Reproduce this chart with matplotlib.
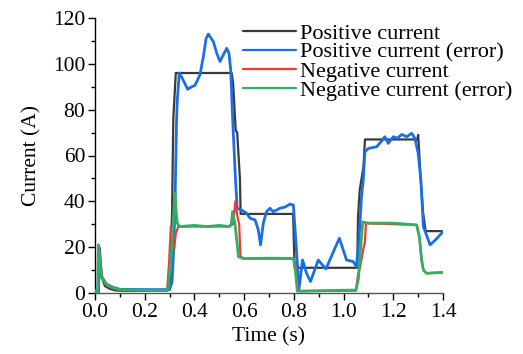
import matplotlib
matplotlib.use("Agg")
import matplotlib.pyplot as plt
from matplotlib.ticker import MultipleLocator

plt.rcParams['font.family'] = ['Liberation Serif', 'DejaVu Serif']
plt.rcParams['mathtext.fontset'] = 'stix'

# Positive current (reference)
t_pos = [0, 0.015, 0.017, 0.02, 0.025, 0.03, 0.04, 0.06, 0.08, 0.1, 0.29, 0.30, 0.31, 0.315, 0.325,
         0.55, 0.556, 0.566, 0.572, 0.583, 0.586, 0.797, 0.803, 1.055, 1.058, 1.065, 1.08, 1.086,
         1.297, 1.300, 1.304, 1.31, 1.32, 1.33, 1.4]
i_pos = [0, 0, 20, 18, 10, 6, 3, 1.8, 1.2, 1, 1, 2, 35, 76, 96,
         96, 91, 71, 70, 50, 34.5, 34.5, 11, 11, 33, 45, 55, 67,
         67, 69, 62, 50, 35, 27, 27]

# Positive current (error)
t_pos_err = [0, 0.012, 0.014, 0.02, 0.027, 0.047, 0.072, 0.1, 0.2, 0.30, 0.31, 0.317, 0.322, 0.328, 0.331,
             0.339, 0.351, 0.373, 0.389, 0.402, 0.422, 0.436, 0.447, 0.456, 0.476, 0.49, 0.503, 0.516,
             0.53, 0.539, 0.546, 0.554, 0.565, 0.572, 0.59, 0.61, 0.624, 0.644, 0.657, 0.666, 0.677,
             0.69, 0.704, 0.717, 0.731, 0.744, 0.765, 0.784, 0.798, 0.805, 0.814, 0.82, 0.835, 0.851,
             0.867, 0.898, 0.929, 0.983, 1.012, 1.039, 1.052, 1.063, 1.072, 1.079, 1.086, 1.1, 1.133,
             1.157, 1.166, 1.18, 1.2, 1.216, 1.234, 1.254, 1.274, 1.287, 1.3, 1.311, 1.321, 1.348,
             1.368, 1.388, 1.4]
i_pos_err = [1.2, 1.2, 20, 14, 7, 3.8, 2.5, 1.6, 1.5, 1.5, 5, 20, 40, 75, 84,
             96, 93.7, 88.9, 90, 90.6, 95.1, 103.1, 111.1, 113, 109.7, 104.6, 101, 103.9,
             106.8, 104.6, 97.3, 75.5, 50, 37, 36.2, 34.8, 32.6, 31.9, 27.5, 21, 30.4,
             35.5, 37, 35.5, 36.2, 37, 37.5, 38.8, 38.4, 27.5, 13, 1, 14.4, 8.6,
             5, 14.4, 10.5, 23.9, 14.4, 13.7, 11.5, 24.6, 42, 49, 61.7, 63.1, 63.8,
             66.8, 68.2, 65.3, 68.2, 67.5, 69.2, 68.2, 69.7, 67.5, 61, 49.3, 29, 21,
             23, 25.3, 26.8]

# Negative current (reference)
t_neg = [0, 0.012, 0.014, 0.02, 0.027, 0.047, 0.072, 0.1, 0.29, 0.298, 0.305, 0.31, 0.318, 0.325, 0.335,
         0.54, 0.555, 0.565, 0.572, 0.58, 0.585, 0.6, 0.8, 0.808, 0.816, 1.05, 1.058, 1.066, 1.08,
         1.086, 1.09, 1.294, 1.305, 1.314, 1.321, 1.334, 1.4]
i_neg = [0.5, 0.5, 21, 14, 6.5, 3.5, 2.2, 1.3, 1, 13, 29, 20, 19, 26, 29,
         29, 30, 40, 34, 30, 16, 15, 15, 11, 0.8, 1, 8, 11, 19.5,
         22.4, 30.4, 29.7, 24.6, 14.4, 10, 8.6, 9]

# Negative current (error)
t_neg_err = [0, 0.012, 0.014, 0.02, 0.027, 0.047, 0.072, 0.1, 0.2, 0.29, 0.295, 0.304, 0.312, 0.318,
             0.322, 0.327, 0.331, 0.34, 0.4, 0.45, 0.5, 0.54, 0.548, 0.554, 0.558, 0.563, 0.573,
             0.577, 0.6, 0.7, 0.798, 0.805, 0.814, 0.9, 1.0, 1.05, 1.06, 1.069, 1.077, 1.1, 1.2,
             1.294, 1.305, 1.314, 1.321, 1.334, 1.4]
i_neg_err = [0.5, 0.5, 21, 14, 6.5, 3.5, 2.2, 1.5, 1.2, 1, 2.7, 13, 26, 38,
             43.5, 35, 30.5, 29, 29.5, 29, 29.5, 29, 30, 35.5, 33, 30.5, 20.2,
             15.8, 15, 15.2, 15.1, 11, 0.8, 1, 1.2, 1.3, 6.4, 20.2, 31, 30.5, 30.5,
             29.7, 24.6, 14.4, 10, 8.6, 9]

labels = ['Positive current', 'Positive current (error)', 'Negative current', 'Negative current (error)']
colors = ['#3a3a3a', '#1a6fe6', '#f03a3a', '#35ad62']

fig = plt.figure(figsize=(5.23, 3.54), dpi=100)
ax = fig.add_axes([95/523, 1-293/354, (443-95)/523, (293-18)/354])

kw = dict(solid_joinstyle='round', solid_capstyle='round')
ax.plot(t_pos, i_pos, color=colors[0], lw=1.6, label=labels[0], zorder=2, **kw)
ax.plot(t_pos_err, i_pos_err, color=colors[1], lw=2.0, label=labels[1], zorder=3, **kw)
ax.plot(t_neg, i_neg, color=colors[2], lw=1.6, label=labels[2], zorder=4, **kw)
ax.plot(t_neg_err, i_neg_err, color=colors[3], lw=2.0, label=labels[3], zorder=5, **kw)

ax.set_xlim(0, 1.4)
ax.set_ylim(0, 120)
ax.xaxis.set_major_locator(MultipleLocator(0.2))
ax.xaxis.set_minor_locator(MultipleLocator(0.1))
ax.yaxis.set_major_locator(MultipleLocator(20))
ax.yaxis.set_minor_locator(MultipleLocator(10))
ax.set_xticks([0, 0.2, 0.4, 0.6, 0.8, 1.0, 1.2, 1.4])
ax.set_xticklabels(['0.0', '0.2', '0.4', '0.6', '0.8', '1.0', '1.2', '1.4'])
ax.tick_params(which='major', direction='out', length=5, width=1, labelsize=15.5, pad=2)
ax.tick_params(which='minor', direction='out', length=3, width=1)
for s in ['top', 'right']:
    ax.spines[s].set_visible(False)
ax.spines['left'].set_linewidth(1)
ax.spines['bottom'].set_linewidth(1)
ax.spines['bottom'].set_color('#555555')

ax.set_xlabel('Time (s)', fontsize=15.5, labelpad=4)
ax.set_ylabel('Current (A)', fontsize=15.5, labelpad=8)

leg = ax.legend(loc='upper left', bbox_to_anchor=(243/523, 1-23/354), bbox_transform=fig.transFigure,
                frameon=False, fontsize=16, handlelength=2.4, handletextpad=0.15,
                labelspacing=-0.06, borderpad=0, borderaxespad=0)
for h in leg.get_lines():
    h.set_linewidth(1.6)

fig.savefig('out.png', dpi=100)
